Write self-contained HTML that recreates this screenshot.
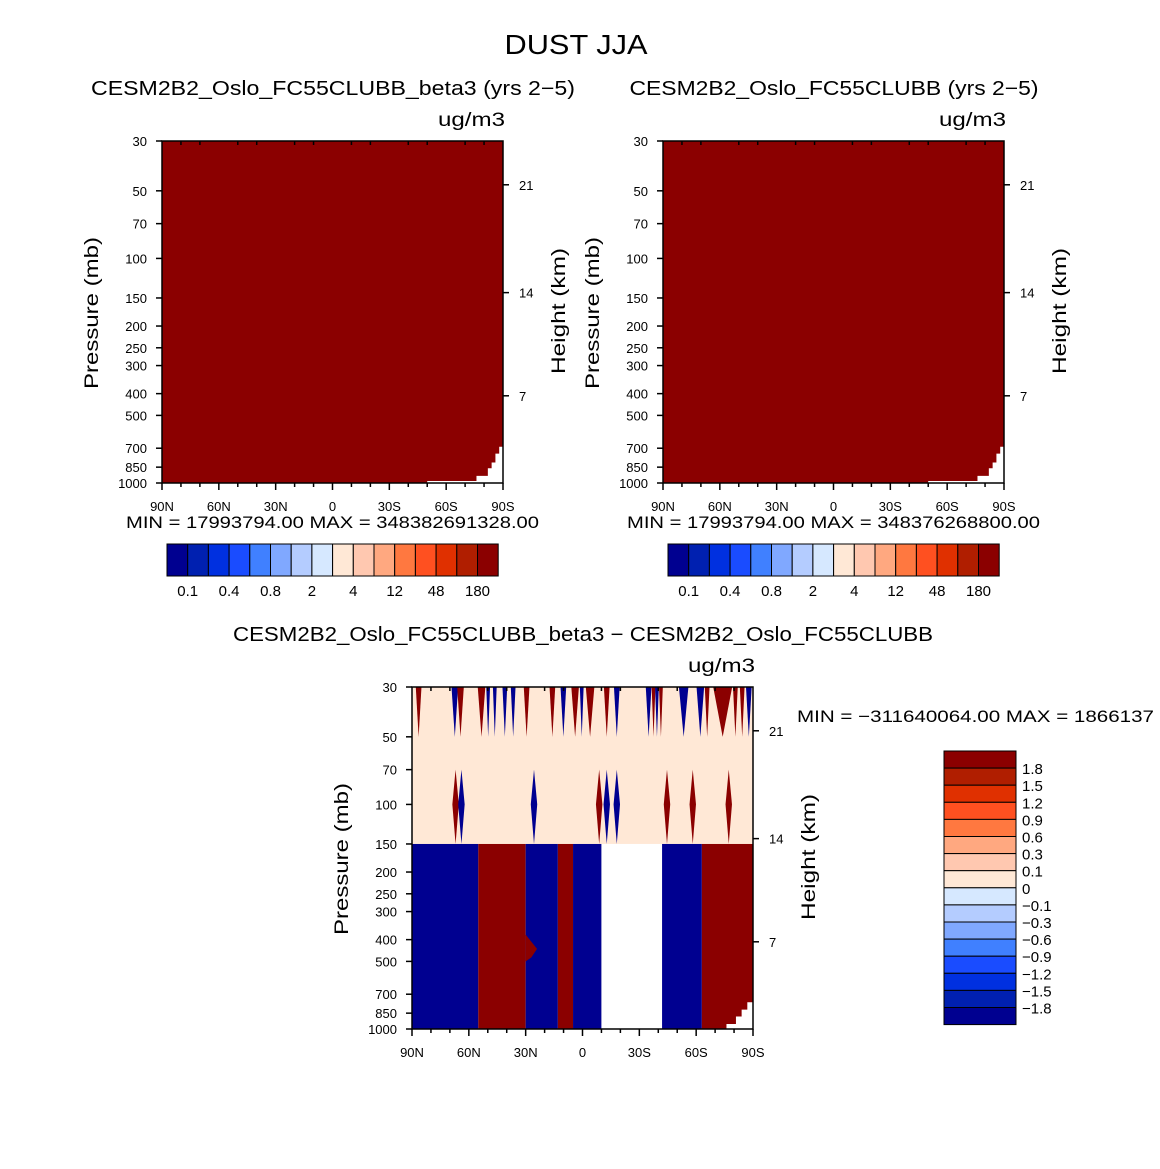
<!DOCTYPE html>
<html><head><meta charset="utf-8">
<style>
body{margin:0;background:#fff;}
svg{display:block;font-family:"Liberation Sans",sans-serif;}
</style></head>
<body>
<svg id="fig" width="1160" height="1169" viewBox="0 0 1160 1169" xmlns="http://www.w3.org/2000/svg">
<text x="576" y="54" font-size="28" text-anchor="middle" textLength="143" lengthAdjust="spacingAndGlyphs">DUST JJA</text>
<g id="layer"></g>
</svg>
<script>
// ---- data ----
const pressureTicks = [30,50,70,100,150,200,250,300,400,500,700,850,1000];
const heightTicks = [21,14,7];
const heightTickPressure = [47,142,409]; // pressure (mb) at which each height tick sits
const latTicks = [90,60,30,0,-30,-60,-90];
const latLabels = ["90N","60N","30N","0","30S","60S","90S"];
const colorLevels16 = ["#000090","#0020b0","#0030e0","#1a4cff","#4080ff","#80a8ff","#b4ccff","#d6e8ff","#ffe8d6","#ffc8b0","#ffa880","#ff7840","#ff5020","#e03000","#b01e00","#8b0000"];
const abslabels = ["0.1","0.4","0.8","2","4","12","48","180"];
const difflabels = ["1.8","1.5","1.2","0.9","0.6","0.3","0.1","0","\u22120.1","\u22120.3","\u22120.6","\u22120.9","\u22121.2","\u22121.5","\u22121.8"];
// white (missing) staircase in bottom-right of top panels
const stairLat = [-90,-88,-86,-84,-82,-76,-50];
const stairP = [690,740,810,860,930,980,995];
// difference panel, lower (150-1000 mb) bands
const bandNorth = [90,55,30,13,5,-10,-42,-63];
const bandSouth = [55,30,13,5,-10,-42,-63,-90];
const bandSign = [-1,1,-1,1,-1,0,-1,1];
// upper spikes (30-50 mb)
const spikeLat = [86.5,67.4,64.4,53.3,49.8,46.3,41,36.6,29.5,15.9,10.1,3.9,0.4,-4,-12.8,-18.1,-34.9,-37.5,-39.3,-41.4,-53.4,-62.2,-65.8,-74,-80.7,-84.3,-87.8];
const spikeSign = [1,-1,1,1,-1,-1,-1,-1,1,1,-1,1,-1,1,1,-1,-1,1,-1,1,-1,-1,1,1,1,1,-1];
const spikeWidth = [3,3.5,3.5,4,2,2,2.5,2.5,3,3,3,4,2,4.5,3,3,3,2,2,2,5,4,2.5,10,2.5,2.5,3];
// diamonds near 100 mb
const diamondLat = [67,63.9,25.6,-8.8,-12.8,-18.1,-44.6,-58.2,-77.2];
const diamondSign = [1,-1,-1,1,-1,-1,1,1,1];

const NS="http://www.w3.org/2000/svg";
const layer=document.getElementById('layer');
function mk(tag,attrs,parent){const e=document.createElementNS(NS,tag);for(const k in attrs)e.setAttribute(k,attrs[k]);(parent||layer).appendChild(e);return e;}
function txt(x,y,s,size,anchor,parent,rot,len){const e=mk('text',{x:x,y:y,'font-size':size,'text-anchor':anchor||'middle'},parent);if(rot)e.setAttribute('transform',`rotate(${rot} ${x} ${y})`);if(len){e.setAttribute('textLength',len);e.setAttribute('lengthAdjust','spacingAndGlyphs');}e.textContent=s;return e;}

function makePanel(x0,y0,name){
  const W=341,H=342;
  const sx=lat=>x0+(90-lat)/180*W;
  const sy=p=>y0+Math.log(p/30)/Math.log(1000/30)*H;
  const g=mk('g',{});
  
  
  return {x0,y0,W,H,sx,sy,g};
}
function axes(P,title,titleX,titleLen){
  const {x0,y0,W,H,sx,sy,g}=P;
  mk('rect',{x:x0,y:y0,width:W,height:H,fill:'none',stroke:'#000','stroke-width':1.5},g);
  pressureTicks.forEach(p=>{const y=sy(p);mk('line',{x1:x0-6,y1:y,x2:x0,y2:y,stroke:'#000','stroke-width':1.5},g);
    const t=txt(x0-15,y+5,String(p),13,'end',g);});
  heightTicks.forEach((h,i)=>{const y=sy(heightTickPressure[i]);mk('line',{x1:x0+W,y1:y,x2:x0+W+6,y2:y,stroke:'#000','stroke-width':1.5},g);
    const t=txt(x0+W+16,y+5,String(h),13,'start',g);});
  for(let lat=90;lat>=-90;lat-=10){const x=sx(lat);const major=lat%30===0;
    mk('line',{x1:x,y1:y0+H,x2:x,y2:y0+H+(major?7:4),stroke:'#000','stroke-width':1.5},g);
    mk('line',{x1:x,y1:y0,x2:x,y2:y0+(major?0:4),stroke:'#000','stroke-width':1.5},g);}
  latTicks.forEach((l,i)=>{const t=txt(sx(l),y0+H+28,latLabels[i],13,'middle',g);});
  const yl=txt(x0-64,y0+H/2+1,'Pressure (mb)',19,'middle',g,-90,152);
  const hr=txt(x0+W+62,y0+H/2-1,'Height (km)',19,'middle',g,-90,126);
  const un=txt(x0+W+2,y0-15,'ug/m3',19,'end',g,0,67);
  const tt=txt(titleX,y0-46,title,20,'middle',g,0,titleLen);
}
function topPanel(x0,title,titleX,titleLen,minmax,name){
  const P=makePanel(x0,141,name);
  const {sx,sy,g}=P;
  mk('rect',{x:P.x0,y:P.y0,width:P.W,height:P.H,fill:'#8b0000'},g);
  let pts=[];
  for(let i=0;i<stairLat.length;i++){pts.push(`${sx(stairLat[i])},${sy(stairP[i])}`);if(i+1<stairLat.length)pts.push(`${sx(stairLat[i+1])},${sy(stairP[i])}`);}
  pts.push(`${sx(stairLat[stairLat.length-1])},${sy(1000)}`);pts.push(`${sx(-90)},${sy(1000)}`);
  const wp=mk('polygon',{points:pts.join(' '),fill:'#fff'},g);
  mk('rect',{x:sx(68),y:sy(995),width:sx(56)-sx(68),height:sy(1000)-sy(995),fill:'#fff'},g);
  axes(P,title,titleX,titleLen);
  const mm=txt(P.x0+P.W/2,P.y0+P.H+45,minmax,17,'middle',g,0,413);
  const cb=mk('g',{},g);
  const cx=x0+5,bw=20.7,cy=544,ch=32;
  colorLevels16.forEach((c,i)=>{const r=mk('rect',{x:cx+i*bw,y:cy,width:bw,height:ch,fill:c,stroke:'#000','stroke-width':1},cb);});
  abslabels.forEach((s,i)=>{const t=txt(cx+(2*i+1)*bw,cy+ch+20,s,15,'middle',cb);});
}
topPanel(162,'CESM2B2_Oslo_FC55CLUBB_beta3  (yrs  2\u22125)',333,484,'MIN  =  17993794.00    MAX  =  348382691328.00','panel-beta3');
topPanel(663,'CESM2B2_Oslo_FC55CLUBB  (yrs  2\u22125)',834,409,'MIN  =  17993794.00    MAX  =  348376268800.00','panel-control');

// difference panel
const D=makePanel(412,687,'panel-difference');
{
  const {sx,sy,g}=D;
  const RED='#8b0000',BLUE='#000090',BEIGE='#ffe8d6';
  mk('rect',{x:D.x0,y:D.y0,width:D.W,height:sy(150)-D.y0,fill:BEIGE},g);
  bandNorth.forEach((n,i)=>{const s=bandSouth[i];const c=bandSign[i]>0?RED:bandSign[i]<0?BLUE:'#fff';
    const r=mk('rect',{x:sx(n),y:sy(150),width:sx(s)-sx(n),height:sy(1000)-sy(150),fill:c},g);
    });
  mk('polygon',{points:`${sx(30)},${sy(380)} ${sx(24)},${sy(440)} ${sx(27)},${sy(480)} ${sx(30)},${sy(500)}`,fill:RED},g);
  mk('polygon',{points:`${sx(-90)},${sy(760)} ${sx(-87)},${sy(760)} ${sx(-87)},${sy(820)} ${sx(-84)},${sy(820)} ${sx(-84)},${sy(880)} ${sx(-81)},${sy(880)} ${sx(-81)},${sy(950)} ${sx(-76)},${sy(950)} ${sx(-76)},${sy(1000)} ${sx(-90)},${sy(1000)}`,fill:'#fff'},g);
  spikeLat.forEach((l,i)=>{const w=spikeWidth[i];const c=spikeSign[i]>0?RED:BLUE;
    const p=mk('polygon',{points:`${sx(l+w/2)},${sy(30)} ${sx(l-w/2)},${sy(30)} ${sx(l)},${sy(50)}`,fill:c},g);
    });
  diamondLat.forEach((l,i)=>{const c=diamondSign[i]>0?RED:BLUE;
    const p=mk('polygon',{points:`${sx(l)},${sy(70)} ${sx(l+1.7)},${sy(100)} ${sx(l)},${sy(150)} ${sx(l-1.7)},${sy(100)}`,fill:c},g);
    });
  axes(D,'CESM2B2_Oslo_FC55CLUBB_beta3  \u2212  CESM2B2_Oslo_FC55CLUBB',583,700);
  const mm=txt(797,722,'MIN  =  \u2212311640064.00    MAX  =  1866137',17,'start',g,0,357);
  const cb=mk('g',{},g);
  const bh=17.1,cx=944,cy=751,cw=72;
  colorLevels16.slice().reverse().forEach((c,i)=>{const r=mk('rect',{x:cx,y:cy+i*bh,width:cw,height:bh,fill:c,stroke:'#000','stroke-width':1},cb);});
  difflabels.forEach((s,i)=>{const t=txt(cx+cw+6,cy+(i+1)*bh+6,s,15,'start',cb);});
}
</script>
</body></html>
